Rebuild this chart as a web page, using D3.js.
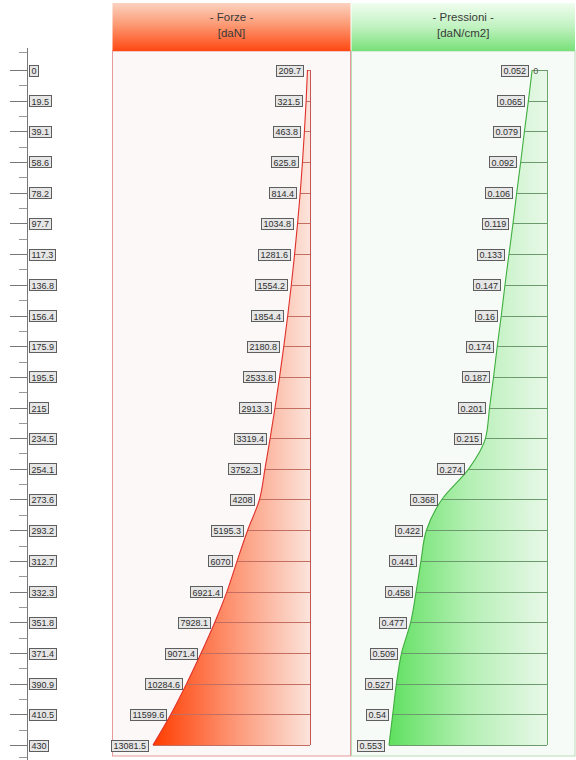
<!DOCTYPE html>
<html>
<head>
<meta charset="utf-8">
<script src="https://cdn.jsdelivr.net/npm/d3@7/dist/d3.min.js"></script>
<style>
  html, body { margin: 0; padding: 0; background: #ffffff; }
  svg { display: block; }
  text { font-family: "Liberation Sans", Arial, sans-serif; }
</style>
</head>
<body>
<svg id="chart" width="576" height="760"></svg>
<script>
// ---- data ----
const depthLabels = ["0","19.5","39.1","58.6","78.2","97.7","117.3","136.8","156.4","175.9","195.5","215","234.5","254.1","273.6","293.2","312.7","332.3","351.8","371.4","390.9","410.5","430"];
const depths = [0,19.5,39.1,58.6,78.2,97.7,117.3,136.8,156.4,175.9,195.5,215,234.5,254.1,273.6,293.2,312.7,332.3,351.8,371.4,390.9,410.5,430];
const forces = [209.7,321.5,463.8,625.8,814.4,1034.8,1281.6,1554.2,1854.4,2180.8,2533.8,2913.3,3319.4,3752.3,4208,5195.3,6070,6921.4,7928.1,9071.4,10284.6,11599.6,13081.5];
const pressures = [0.052,0.065,0.079,0.092,0.106,0.119,0.133,0.147,0.16,0.174,0.187,0.201,0.215,0.274,0.368,0.422,0.441,0.458,0.477,0.509,0.527,0.54,0.553];
const panelTitles = [["- Forze -","[daN]"],["- Pressioni -","[daN/cm2]"]];

const svg = d3.select("#chart");
const defs = svg.append("defs");

const y = d3.scaleLinear().domain([0, 430]).range([70, 745]);
const xF = d3.scaleLinear().domain([0, d3.max(forces)]).range([310, 153]);
const xP = d3.scaleLinear().domain([0, d3.max(pressures)]).range([547, 389]);

// gradients
function linGrad(id, x1, y1, x2, y2, stops) {
  const g = defs.append("linearGradient").attr("id", id)
    .attr("gradientUnits", "userSpaceOnUse")
    .attr("x1", x1).attr("y1", y1).attr("x2", x2).attr("y2", y2);
  stops.forEach(s => g.append("stop").attr("offset", s[0]).attr("stop-color", s[1]));
}
linGrad("hdrRed", 0, 3, 0, 51, [[0, "#fbd2c0"], [0.45, "#fc9a74"], [1, "#ff4812"]]);
linGrad("hdrGreen", 0, 3, 0, 51, [[0, "#f0fdf0"], [0.5, "#c0f2c0"], [1, "#78e078"]]);
linGrad("fillRed", 153, 0, 312, 0, [[0, "#ff3c00"], [0.45, "#fd8c68"], [1, "#fbe6de"]]);
linGrad("fillGreen", 389, 0, 549, 0, [[0, "#5fe05f"], [0.5, "#b4efb4"], [1, "#eaf8ea"]]);

// ---- panels ----
const panels = [
  {x0: 112.5, x1: 350.5, hdr: "url(#hdrRed)", bg: "#fcf8f8", border: "#e79a9a"},
  {x0: 351.5, x1: 575, hdr: "url(#hdrGreen)", bg: "#f7fbf7", border: "#b9dcb9"}
];
panels.forEach((p, i) => {
  svg.append("rect").attr("x", p.x0).attr("y", 51).attr("width", p.x1 - p.x0).attr("height", 705)
    .attr("fill", p.bg).attr("stroke", p.border).attr("stroke-width", 1);
  svg.append("rect").attr("x", p.x0).attr("y", 3).attr("width", p.x1 - p.x0).attr("height", 48)
    .attr("fill", p.hdr);
  const cx = (p.x0 + p.x1) / 2;
  svg.append("text").attr("x", cx).attr("y", 21).attr("text-anchor", "middle")
    .attr("font-size", 11.5).attr("fill", "#3a3a3a").text(panelTitles[i][0]);
  svg.append("text").attr("x", cx).attr("y", 37).attr("text-anchor", "middle")
    .attr("font-size", 11.5).attr("fill", "#3a3a3a").text(panelTitles[i][1]);
});

// ---- label box helper ----
function labelBox(g, xRight, yc, txt, anchor) {
  const t = g.append("text").attr("font-size", 9).attr("fill", "#2e2e2e")
    .attr("dominant-baseline", "central").text(txt);
  const w = t.node().getComputedTextLength();
  const bw = w + 4, bh = 11;
  const xl = anchor === "start" ? xRight : xRight - bw;
  g.insert("rect", "text:last-child")
    .attr("x", Math.round(xl) + 0.5).attr("y", Math.round(yc - bh / 2) + 0.5).attr("width", Math.round(bw)).attr("height", bh)
    .attr("fill", "#e6e6e6").attr("stroke", "#5e5e5e").attr("stroke-width", 1);
  t.attr("x", Math.round(xl) + 2.5).attr("y", yc + 1);
}

// ---- left depth axis ----
const axisG = svg.append("g");
axisG.append("line").attr("x1", 27.5).attr("x2", 27.5).attr("y1", 48).attr("y2", 760)
  .attr("stroke", "#777").attr("stroke-width", 1);
depths.forEach((d, i) => {
  const yy = Math.round(y(d)) + 0.5;
  axisG.append("line").attr("x1", 10).attr("x2", 27.5).attr("y1", yy).attr("y2", yy)
    .attr("stroke", "#777").attr("stroke-width", 1);
  if (i > 0) {
    const ym = Math.round((y(d) + y(depths[i - 1])) / 2) + 0.5;
    axisG.append("line").attr("x1", 19).attr("x2", 27.5).attr("y1", ym).attr("y2", ym)
      .attr("stroke", "#999").attr("stroke-width", 1);
  }
  const lg = axisG.append("g");
  labelBox(lg, 29, y(d), depthLabels[i], "start");
});
axisG.append("line").attr("x1", 19).attr("x2", 27.5).attr("y1", 52.5).attr("y2", 52.5).attr("stroke", "#999");
axisG.append("line").attr("x1", 19).attr("x2", 27.5).attr("y1", 757.5).attr("y2", 757.5).attr("stroke", "#999");

// ---- diagram drawing ----
function diagram(values, xs, fillId, edgeColor, gridColor, baseColor, fmt) {
  const g = svg.append("g");
  const pts = values.map((v, i) => [xs(v), y(depths[i])]);
  const area = d3.area().x0(xs(0)).x1(d => d[0]).y(d => d[1]).curve(d3.curveMonotoneY);
  g.append("path").datum(pts).attr("d", area).attr("fill", fillId);
  values.forEach((v, i) => {
    const yy = Math.round(y(depths[i])) + 0.5;
    g.append("line").attr("x1", xs(v)).attr("x2", xs(0)).attr("y1", yy).attr("y2", yy)
      .attr("stroke", gridColor).attr("stroke-width", 1);
  });
  g.append("line").attr("x1", xs(0) + 0.5).attr("x2", xs(0) + 0.5)
    .attr("y1", y(0)).attr("y2", y(430)).attr("stroke", baseColor).attr("stroke-width", 1);
  const line = d3.line().x(d => d[0]).y(d => d[1]).curve(d3.curveMonotoneY);
  g.append("path").datum(pts).attr("d", line).attr("fill", "none")
    .attr("stroke", edgeColor).attr("stroke-width", 1.1);
  values.forEach((v, i) => {
    const lg = g.append("g");
    labelBox(lg, xs(v) - 5, y(depths[i]), fmt(v), "end");
  });
  return g;
}

const fmtF = v => Number.isInteger(v) ? String(v) : v.toFixed(1);
const fmtP = v => String(+v.toFixed(3));

diagram(forces, xF, "url(#fillRed)", "#e0302a", "#c46e62", "#c65555", fmtF);
const gp = diagram(pressures, xP, "url(#fillGreen)", "#3fae3f", "#6c9a6c", "#6aa86a", fmtP);
gp.append("text").attr("x", xP(pressures[0]) + 1).attr("y", y(0) + 1)
  .attr("dominant-baseline", "central").attr("font-size", 9).attr("fill", "#555").text("0");
</script>
</body>
</html>
